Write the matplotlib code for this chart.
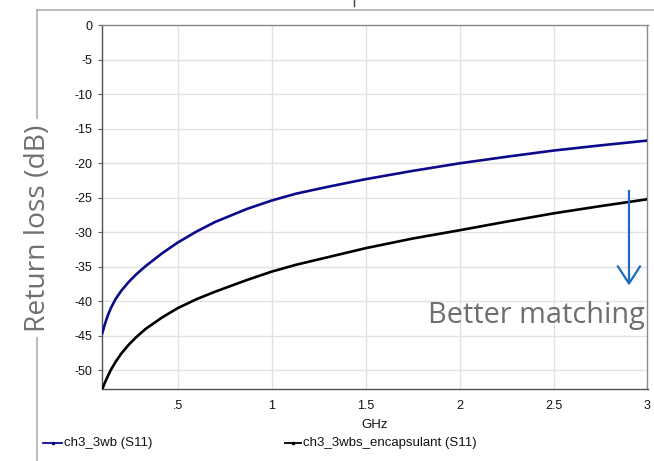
import matplotlib
matplotlib.use("Agg")
import matplotlib.pyplot as plt
from matplotlib.lines import Line2D

# ---- data ----
freq_ghz = [0.1, 0.115, 0.13, 0.145, 0.17, 0.2, 0.24, 0.28, 0.33, 0.42, 0.5, 0.6, 0.7,
            0.87, 1.0, 1.13, 1.3, 1.5, 1.75, 2.0, 2.25, 2.5, 2.75, 3.0]
s11_wb = [-44.6, -43.2, -42.0, -41.0, -39.7, -38.5, -37.2, -36.1, -34.9, -33.0, -31.5, -29.9, -28.5,
          -26.6, -25.4, -24.4, -23.4, -22.3, -21.1, -20.0, -19.05, -18.15, -17.4, -16.7]
s11_enc = [-52.7, -51.7, -50.8, -49.95, -48.8, -47.6, -46.3, -45.2, -44.0, -42.3, -41.0, -39.7, -38.6,
           -36.9, -35.7, -34.7, -33.6, -32.3, -30.9, -29.7, -28.45, -27.25, -26.2, -25.2]
series_names = ["ch3_3wb (S11)", "ch3_3wbs_encapsulant (S11)"]
series_colors = ["#0b0b8c", "#000000"]
xticks = [0.5, 1, 1.5, 2, 2.5, 3]
xticklabels = [".5", "1", "1.5", "2", "2.5", "3"]
yticks = [0, -5, -10, -15, -20, -25, -30, -35, -40, -45, -50]

W, H = 654, 461
fig = plt.figure(figsize=(W / 100, H / 100), dpi=100)

def fx(x):
    return x / W

def fy(y):
    return 1 - y / H

ax_l, ax_r, ax_t, ax_b = 102.3, 647.5, 25.3, 389.0
ax = fig.add_axes([fx(ax_l), fy(ax_b), fx(ax_r) - fx(ax_l), fy(ax_t) - fy(ax_b)])

ax.plot(freq_ghz, s11_wb, color=series_colors[0], lw=1.9, solid_joinstyle="round", zorder=3)
ax.plot(freq_ghz, s11_enc, color=series_colors[1], lw=1.9, solid_joinstyle="round", zorder=3)

ax.set_xlim(0.1, 3.0)
ax.set_ylim(-52.7, 0)
ax.set_xticks(xticks)
ax.set_xticklabels(xticklabels)
ax.set_yticks(yticks)
ax.set_yticklabels([str(v) for v in yticks])
ax.grid(True, color="#e2e2e2", lw=1.0)
ax.set_axisbelow(True)

for lab in ax.get_xticklabels() + ax.get_yticklabels():
    lab.set_fontfamily("Liberation Sans")
    lab.set_fontsize(9)
    lab.set_color("#111111")
ax.tick_params(axis="x", length=0, pad=8)
ax.tick_params(axis="y", length=3, width=0.8, color="#606060", pad=4)

for side in ["left", "bottom"]:
    ax.spines[side].set_color("#505050")
    ax.spines[side].set_linewidth(1.0)
for side in ["top", "right"]:
    ax.spines[side].set_color("#8a8a8a")
    ax.spines[side].set_linewidth(1.0)

ax.set_xlabel("GHz", fontfamily="Liberation Sans", fontsize=9.5, labelpad=5, color="#111111")

# outer frame
fig.add_artist(Line2D([fx(37), fx(37)], [fy(10), fy(461)], transform=fig.transFigure,
                      color="#a8a8a8", lw=1.1))
fig.add_artist(Line2D([fx(37), fx(654)], [fy(10), fy(10)], transform=fig.transFigure,
                      color="#a8a8a8", lw=1.1))
# small cropped mark at top
fig.add_artist(Line2D([fx(353.5), fx(353.5)], [fy(0), fy(6)], transform=fig.transFigure,
                      color="#404040", lw=1.0))

# y label with white background breaking the frame line
fig.text(fx(38), fy(228), "Return loss (dB)", rotation=90, ha="center", va="center",
         fontfamily="Open Sans", fontsize=20.3, color="#707070",
         bbox=dict(facecolor="white", edgecolor="none", pad=4))

# annotation: arrow + text
arrow_col = "#1c6cc0"
fig.add_artist(Line2D([fx(629), fx(629)], [fy(191), fy(283)], transform=fig.transFigure,
                      color=arrow_col, lw=1.6))
fig.add_artist(Line2D([fx(618), fx(629), fx(640)], [fy(266.5), fy(283.5), fy(266.5)],
                      transform=fig.transFigure, color=arrow_col, lw=1.6))
fig.text(fx(645), fy(323), "Better matching", ha="right", va="baseline",
         fontfamily="Open Sans", fontsize=20.8, color="#6e6e6e")

# legend (manual)
leg_y = 443
for (x0, x1, tx), name, col in zip([(43, 62, 64), (285, 301, 303)], series_names, series_colors):
    fig.add_artist(Line2D([fx(x0), fx((x0 + x1) / 2), fx(x1)], [fy(leg_y)] * 3,
                          transform=fig.transFigure, color=col, lw=1.3,
                          marker="s", markersize=2.0, markevery=[1]))
    fig.text(fx(tx), fy(leg_y), name, ha="left", va="center",
             fontfamily="Liberation Sans", fontsize=9.5, color="#111111")

fig.savefig("out.png", dpi=100)
